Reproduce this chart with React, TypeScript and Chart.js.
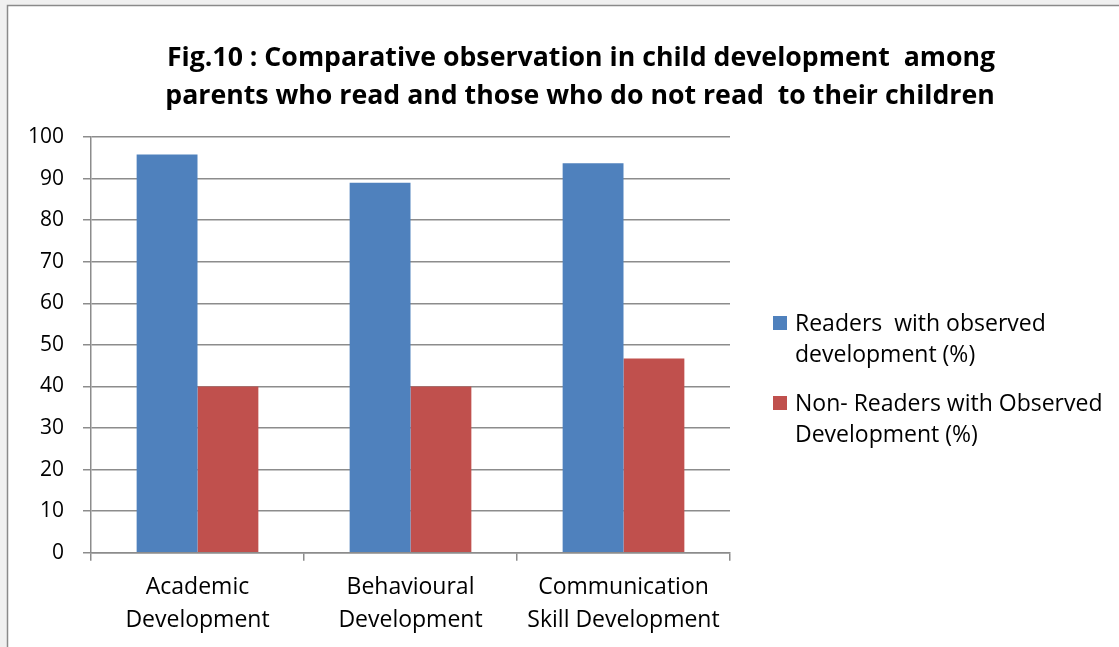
import React, { useEffect, useRef } from "react";
import { Chart, registerables } from "chart.js";

Chart.register(...registerables);

const categories: string[][] = [
  ["Academic", "Development"],
  ["Behavioural", "Development"],
  ["Communication", "Skill Development"],
];
const readersValues = [95.8, 89.0, 93.7];
const nonReadersValues = [40.0, 40.0, 46.7];
const seriesNames: string[][] = [
  ["Readers  with observed", "development (%)"],
  ["Non- Readers with Observed", "Development (%)"],
];
const titleLines = [
  "Fig.10 : Comparative observation in child development  among",
  "parents who read and those who do not read  to their children",
];
const yTicks = { min: 0, max: 100, step: 10 };

const BLUE = "#4F81BD";
const RED = "#C0504D";
const GRID = "#8c8c8c";
const FONT = "'Open Sans', sans-serif";

const framePlugin = {
  id: "frame",
  beforeDraw(chart: any) {
    const ctx = chart.ctx;
    ctx.save();
    ctx.fillStyle = "#f0f0f0";
    ctx.fillRect(0, 0, chart.width, chart.height);
    ctx.fillStyle = "#ffffff";
    ctx.fillRect(7, 5, chart.width, chart.height);
    ctx.strokeStyle = "#8a8a8a";
    ctx.lineWidth = 1.5;
    ctx.beginPath();
    ctx.moveTo(7.5, chart.height);
    ctx.lineTo(7.5, 5.5);
    ctx.lineTo(chart.width, 5.5);
    ctx.stroke();
    ctx.restore();
  },
};

const decorPlugin = {
  id: "decor",
  afterDraw(chart: any) {
    const ctx = chart.ctx;
    ctx.save();
    // title
    ctx.fillStyle = "#000";
    ctx.textAlign = "center";
    ctx.textBaseline = "alphabetic";
    ctx.font = `bold 26.7px ${FONT}`;
    ctx.fillText(titleLines[0], 581, 66);
    ctx.fillText(titleLines[1], 580, 104);
    // legend
    const colors = [BLUE, RED];
    const tops = [331, 411];
    ctx.textAlign = "left";
    ctx.font = `23px ${FONT}`;
    seriesNames.forEach((lines, i) => {
      ctx.fillStyle = colors[i];
      ctx.fillRect(773, tops[i] - 15, 14, 14);
      ctx.fillStyle = "#000";
      lines.forEach((l, j) => ctx.fillText(l, 795, tops[i] + j * 31));
    });
    ctx.restore();
  },
};

export default function App() {
  const ref = useRef<HTMLCanvasElement>(null);
  useEffect(() => {
    if (!ref.current) return;
    const chart = new Chart(ref.current, {
      type: "bar",
      data: {
        labels: categories,
        datasets: [
          {
            label: seriesNames[0].join(" "),
            data: readersValues,
            backgroundColor: BLUE,
            categoryPercentage: 1 / 1.75,
            barPercentage: 1,
          },
          {
            label: seriesNames[1].join(" "),
            data: nonReadersValues,
            backgroundColor: RED,
            categoryPercentage: 1 / 1.75,
            barPercentage: 1,
          },
        ],
      },
      options: {
        responsive: false,
        animation: false,
        layout: { padding: { left: 0, right: 389, top: 137, bottom: 0 } },
        plugins: {
          legend: { display: false },
          title: { display: false },
          tooltip: { enabled: false },
        },
        scales: {
          x: {
            grid: {
              drawOnChartArea: false,
              drawTicks: true,
              tickLength: 8,
              color: GRID,
              lineWidth: 1.5,
            },
            border: { color: GRID, width: 1.5 },
            ticks: {
              color: "#000",
              font: { family: FONT, size: 23, lineHeight: 1.43 },
              padding: 10,
              maxRotation: 0,
              autoSkip: false,
            },
            afterFit(scale: any) {
              scale.height = 94.3;
            },
          },
          y: {
            min: yTicks.min,
            max: yTicks.max,
            grid: {
              color: GRID,
              lineWidth: 1.5,
              tickLength: 8,
            },
            border: { color: GRID, width: 1.5 },
            ticks: {
              stepSize: yTicks.step,
              color: "#000",
              font: { family: FONT, size: 21 },
              padding: 19,
            },
            afterFit(scale: any) {
              scale.width = 91;
            },
          },
        },
      },
      plugins: [framePlugin, decorPlugin],
    });
    return () => chart.destroy();
  }, []);
  return (
    <div style={{ position: "fixed", left: 0, top: 0, width: 1119, height: 647 }}>
      <canvas ref={ref} width={1119} height={647} style={{ display: "block" }} />
    </div>
  );
}
